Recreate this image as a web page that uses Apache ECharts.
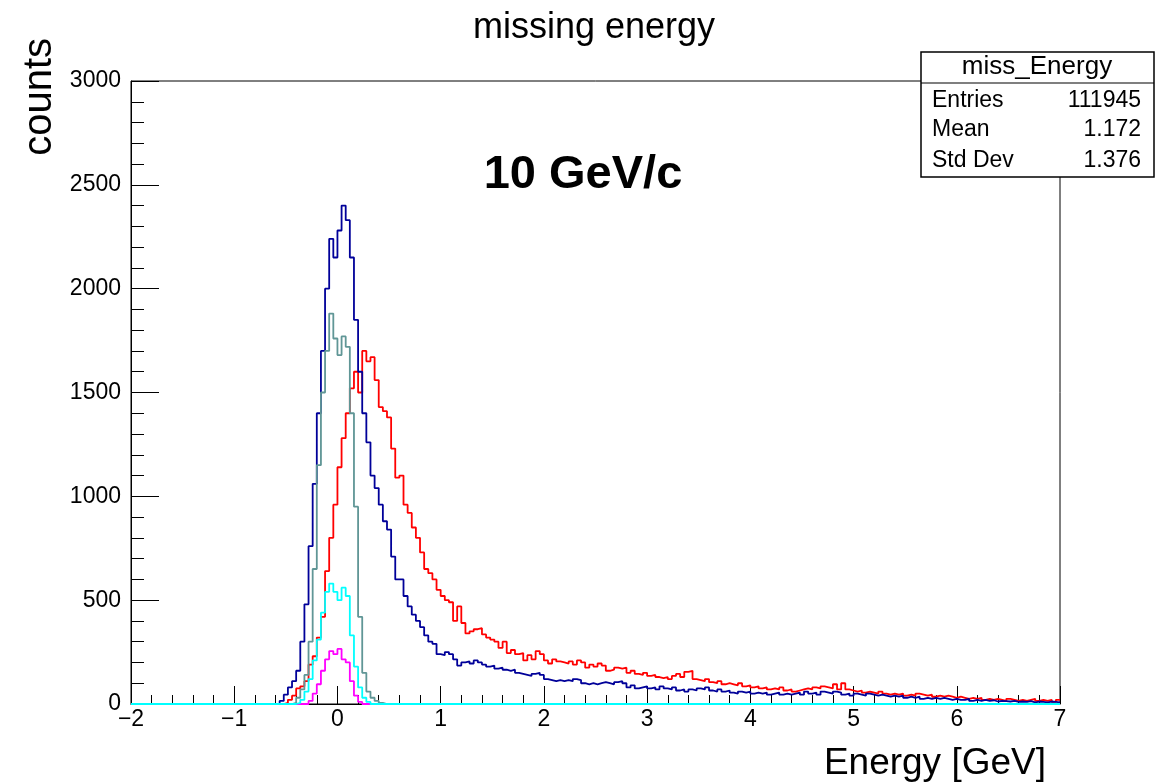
<!DOCTYPE html>
<html>
<head>
<meta charset="utf-8">
<script src="https://cdn.jsdelivr.net/npm/echarts@6/dist/echarts.min.js"></script>
<style>
html,body{margin:0;padding:0;background:#fff;}
#chart{width:1162px;height:783px;}
</style>
</head>
<body>
<div id="chart"></div>
<script>
// ---- data (bin width 0.04 GeV, values are counts per bin) ----
const xMin = -2, xMax = 7, binWidth = 0.04;
const xTicks = [-2, -1, 0, 1, 2, 3, 4, 5, 6, 7];
const yTicks = [0, 500, 1000, 1500, 2000, 2500, 3000];

const blueStart = -0.60;
const blueCounts = [
  0, 15, 45, 80, 110, 160, 300, 480, 760, 1060,
  1400, 1700, 2000, 2240, 2150, 2280, 2400, 2330, 2150, 1850,
  1600, 1400, 1260, 1100, 1040, 960, 880, 840, 710, 600,
  600, 520, 470, 430, 400, 370, 330, 300, 290, 240,
  235, 250, 240, 215, 185, 200, 205, 195, 210, 200,
  190, 180, 185, 170, 175, 165, 160, 165, 150, 145,
  140, 135, 145, 150, 140, 120, 115, 110, 115, 110,
  115, 110, 120, 115, 100, 95, 100, 95, 100, 105,
  100, 95, 105, 110, 100, 80, 90, 75, 80, 85,
  75, 80, 70, 85, 75, 70, 80, 65, 70, 60,
  70, 65, 75, 70, 80, 65, 60, 70, 60, 65,
  55, 50, 60, 55, 60, 50, 55, 50, 55, 45,
  50, 55, 45, 50, 45, 50, 55, 45, 60, 50,
  55, 45, 60, 55, 50, 60, 55, 45, 50, 40,
  50, 45, 40, 50, 45, 40, 45, 40, 35, 40,
  35, 40, 30, 35, 30, 35, 25, 30, 25, 30,
  25, 30, 25, 20, 25, 20, 20, 25, 15, 20,
  15, 20, 15, 18, 12, 15, 14, 12, 15, 10,
  12, 10, 14, 8, 12, 10, 8, 12, 10, 8
];

const redStart = -0.60;
const redCounts = [
  0, 0, 5, 20, 40, 75, 85, 110, 190, 230,
  320, 420, 640, 800, 960, 1140, 1280, 1400, 1520, 1600,
  1500, 1700, 1650, 1670, 1560, 1430, 1410, 1380, 1230, 1090,
  1100, 960, 920, 850, 800, 730, 650, 630, 600, 550,
  520, 500, 490, 400, 470, 390, 340, 350, 360, 365,
  335, 320, 310, 300, 270, 300, 245, 260, 240, 245,
  210, 235, 215, 255, 240, 210, 195, 215, 205, 200,
  195, 205, 190, 210, 200, 175, 190, 180, 195, 185,
  160, 165, 175, 170, 175, 150, 160, 145, 140, 150,
  135, 140, 130, 125, 130, 120, 135, 145, 130, 155,
  160, 120, 115, 110, 120, 105, 100, 110, 95, 100,
  95, 90, 100, 85, 90, 80, 85, 75, 80, 70,
  75, 70, 80, 65, 70, 60, 65, 70, 75, 70,
  80, 75, 85, 80, 75, 95, 70, 100, 70, 65,
  60, 65, 55, 60, 55, 50, 60, 50, 45, 50,
  45, 50, 40, 45, 40, 50, 45, 40, 45, 35,
  40, 35, 40, 35, 30, 35, 30, 25, 30, 25,
  30, 20, 25, 20, 25, 20, 15, 25, 20, 15,
  20, 15, 20, 25, 15, 20, 15, 20, 10, 20
];

const grayStart = -0.44;
const grayCounts = [5, 30, 70, 140, 300, 650, 1150, 1500, 1700, 1880, 1760, 1680, 1770, 1720, 1400, 950, 420, 150, 60, 30, 15, 5];

const cyanStart = -0.40;
const cyanCounts = [5, 20, 60, 120, 210, 310, 440, 540, 580, 540, 500, 560, 520, 330, 180, 80, 30, 10];

const magentaStart = -0.28;
const magentaCounts = [15, 50, 95, 160, 215, 255, 240, 265, 215, 200, 110, 40, 10];

const statsTitle = 'miss_Energy';
const statsRows = [['Entries', '111945'], ['Mean', '1.172'], ['Std Dev', '1.376']];

// ---- build histogram step data ----
function hist(start, vals) {
  const n = Math.round((xMax - xMin) / binWidth);
  const off = Math.round((start - xMin) / binWidth);
  const d = [];
  for (let i = 0; i < n; i++) {
    const j = i - off;
    const v = (j >= 0 && j < vals.length) ? vals[j] : 0;
    d.push([+(xMin + i * binWidth).toFixed(2), v]);
  }
  d.push([xMax, d[d.length - 1][1]]);
  return d;
}

const FONT = '"Liberation Sans", Arial, Helvetica, sans-serif';
function histSeries(name, color, start, vals) {
  return {
    name: name, type: 'line', step: 'end', data: hist(start, vals),
    showSymbol: false, symbol: 'none', silent: true,
    lineStyle: { color: color, width: 1.8 },
    animation: false
  };
}

const chart = echarts.init(document.getElementById('chart'), null, { renderer: 'canvas' });

const gx = 131, gy = 81, gw = 929, gh = 623;

const graphics = [
  { type: 'text', x: 594, y: 28, z: 100,
    style: { text: 'missing energy', font: '36px ' + FONT, fill: '#000',
      textAlign: 'center', textVerticalAlign: 'middle', align: 'center', verticalAlign: 'middle' } },
  { type: 'text', x: 583, y: 175, z: 100,
    style: { text: '10 GeV/c', font: 'bold 47px ' + FONT, fill: '#000',
      textAlign: 'center', textVerticalAlign: 'middle', align: 'center', verticalAlign: 'middle' } },
  { type: 'text', x: 1046, y: 764, z: 100,
    style: { text: 'Energy [GeV]', font: '37px ' + FONT, fill: '#000',
      textAlign: 'right', textVerticalAlign: 'middle', align: 'right', verticalAlign: 'middle' } },
  { type: 'text', x: 40, y: 38, rotation: Math.PI / 2, z: 100,
    style: { text: 'counts', font: '40px ' + FONT, fill: '#000',
      textAlign: 'right', textVerticalAlign: 'middle', align: 'right', verticalAlign: 'middle' } },
  { type: 'rect', z: 100, shape: { x: 921, y: 52, width: 233, height: 125 },
    style: { fill: '#fff', stroke: '#000', lineWidth: 1.5 } },
  { type: 'line', z: 101, shape: { x1: 921, y1: 83, x2: 1154, y2: 83 },
    style: { stroke: '#000', lineWidth: 1.2 } },
  { type: 'text', x: 1037, y: 67, z: 102,
    style: { text: statsTitle, font: '26px ' + FONT, fill: '#000',
      textAlign: 'center', textVerticalAlign: 'middle', align: 'center', verticalAlign: 'middle' } }
];
const rowY = [101, 130, 161];
statsRows.forEach(function (r, i) {
  graphics.push({ type: 'text', x: 932, y: rowY[i], z: 102,
    style: { text: r[0], font: '23px ' + FONT, fill: '#000',
      textAlign: 'left', textVerticalAlign: 'middle', align: 'left', verticalAlign: 'middle' } });
  graphics.push({ type: 'text', x: 1141, y: rowY[i], z: 102,
    style: { text: r[1], font: '23px ' + FONT, fill: '#000',
      textAlign: 'right', textVerticalAlign: 'middle', align: 'right', verticalAlign: 'middle' } });
});

chart.setOption({
  animation: false,
  backgroundColor: '#fff',
  grid: { left: gx, top: gy, width: gw, height: gh, show: true, borderColor: '#000', borderWidth: 1, backgroundColor: 'transparent' },
  xAxis: {
    type: 'value', min: xTicks[0], max: xTicks[xTicks.length - 1], interval: 1,
    axisLine: { show: true, onZero: false, lineStyle: { color: '#000', width: 1 } },
    axisTick: { show: true, inside: true, length: 18, lineStyle: { color: '#000', width: 1 } },
    minorTick: { show: true, splitNumber: 5, length: 9, lineStyle: { color: '#000', width: 1 } },
    splitLine: { show: false },
    axisLabel: { color: '#000', fontSize: 23, fontFamily: FONT, margin: 4,
      formatter: function (v) { return String(v).replace('-', '\u2212'); } }
  },
  yAxis: {
    type: 'value', min: yTicks[0], max: yTicks[yTicks.length - 1], interval: 500,
    axisLine: { show: true, onZero: false, lineStyle: { color: '#000', width: 1 } },
    axisTick: { show: true, inside: true, length: 28, lineStyle: { color: '#000', width: 1 } },
    minorTick: { show: true, splitNumber: 5, length: 13, lineStyle: { color: '#000', width: 1 } },
    splitLine: { show: false },
    axisLabel: { color: '#000', fontSize: 23, fontFamily: FONT, margin: 10,
      formatter: function (v) { return String(v); } }
  },
  series: [
    histSeries('red', '#ff0000', redStart, redCounts),
    histSeries('blue', '#000099', blueStart, blueCounts),
    histSeries('gray', '#609696', grayStart, grayCounts),
    histSeries('magenta', '#ff00ff', magentaStart, magentaCounts),
    histSeries('cyan', '#00ffff', cyanStart, cyanCounts)
  ],
  graphic: graphics
});
</script>
</body>
</html>
